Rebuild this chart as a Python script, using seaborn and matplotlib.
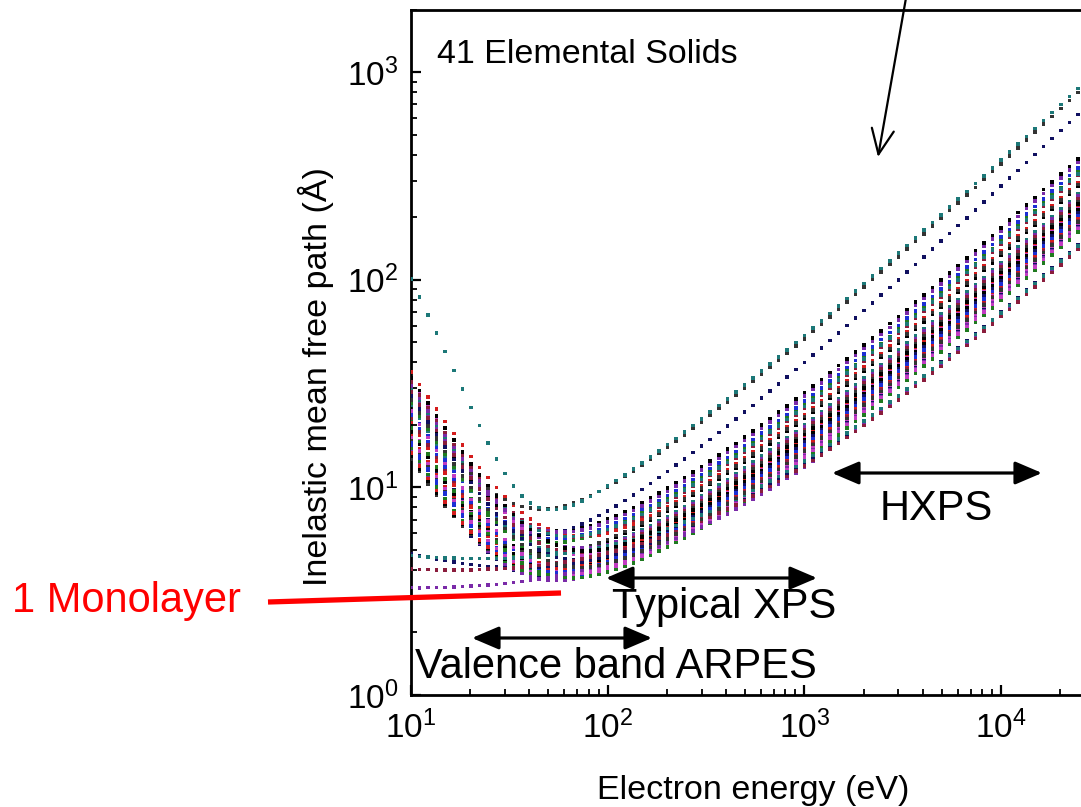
import numpy as np
import pandas as pd
import matplotlib
matplotlib.use("Agg")
import matplotlib.pyplot as plt
from matplotlib.lines import Line2D
from matplotlib.ticker import LogLocator, LogFormatterSciNotation, NullFormatter
import seaborn as sns

# ---------------------------------------------------------------------------
# Electron energies of the IMFP calculation grid (eV)
energy_ev = np.geomspace(10, 30000, 81)

# 41 elemental solids and the per-element parameters of the IMFP curves
elements = ["Li", "Be", "graphite", "diamond", "glassy C", "Na", "Mg", "Al", "Si", "K",
            "Sc", "Ti", "V", "Cr", "Fe", "Co", "Ni", "Cu", "Ge", "Y",
            "Nb", "Mo", "Ru", "Rh", "Pd", "Ag", "In", "Sn", "Cs", "Gd",
            "Tb", "Dy", "Hf", "Ta", "W", "Re", "Os", "Ir", "Pt", "Au", "Bi"]
# IMFP at 1 keV (Angstrom)
imfp_1kev = [28.6, 22.5, 26.0, 17.5, 25.0, 40.0, 27.5, 24.0, 24.5, 52.0,
             21.5, 18.5, 16.5, 15.5, 15.0, 14.6, 14.2, 15.2, 20.0, 22.0,
             17.0, 15.8, 14.0, 14.0, 15.0, 16.5, 19.5, 19.0, 54.0, 18.5,
             18.0, 17.8, 16.0, 14.8, 13.5, 13.0, 12.5, 12.7, 13.4, 15.0, 18.0]
# Bethe-type energy scale of the high-energy branch (eV)
bethe_w = [17.0, 19.0, 17.5, 20.0, 18.0, 2.0, 17.0, 18.0, 18.0, 3.2,
           19.0, 20.0, 20.5, 21.0, 21.0, 21.0, 21.5, 21.0, 19.5, 19.0,
           20.5, 21.0, 21.5, 21.5, 21.0, 20.5, 19.5, 19.5, 3.0, 20.0,
           20.0, 20.0, 20.5, 21.0, 21.5, 22.0, 22.0, 22.0, 22.0, 21.0, 20.0]
# constant offset (Angstrom)
imfp_floor = [1.0, 1.0, 1.0, 1.0, 1.0, 1.5, 1.0, 1.0, 1.0, 1.5,
              1.0, 1.0, 1.0, 1.0, 1.0, 1.0, 1.0, 1.0, 1.0, 1.0,
              1.0, 1.0, 1.0, 1.0, 1.0, 1.0, 1.0, 1.0, 1.5, 1.0,
              1.0, 1.0, 1.0, 1.0, 1.0, 2.2, 1.9, 2.5, 2.8, 1.0, 1.0]
# low-energy rise: amplitude at 10 eV (Angstrom), power and cut-off energy (eV)
low_amp = [24, 33, 20, 30, 18, 14, 26, 29, 27, 22,
           16, 15, 14, 17, 13, 12, 12.5, 19, 22, 14,
           16, 18, 20, 21, 23, 25, 28, 26, 97, 11,
           11.5, 12, 13.5, 15, 17, 1.5, 0.3, 0.5, 0.8, 24, 31]
low_pow = [1.5, 1.4, 1.5, 1.45, 1.5, 1.3, 1.5, 1.45, 1.45, 1.3,
           1.6, 1.6, 1.55, 1.55, 1.6, 1.6, 1.6, 1.5, 1.5, 1.6,
           1.55, 1.5, 1.5, 1.5, 1.45, 1.45, 1.4, 1.45, 1.47, 1.6,
           1.6, 1.6, 1.55, 1.55, 1.5, 0.6, 0.5, 0.5, 0.5, 1.45, 1.4]
low_cut = [60, 70, 60, 65, 55, 50, 60, 65, 65, 50,
           55, 55, 55, 60, 55, 55, 55, 60, 60, 50,
           55, 60, 60, 60, 60, 65, 65, 65, 18, 50,
           50, 50, 55, 55, 60, 40, 60, 60, 60, 60, 70]

# plotting colours of the data sets
series_colors = ["#000000", "#d41c1c", "#1c2fd4", "#c23cc2", "#1f7a1f",
                 "#101060", "#7a2aa8", "#8a1c3c", "#1c7878", "#333333"]


def imfp_curve(e, lam1k, w, floor, amp, pw, cut):
    k = (lam1k - floor) * np.log1p(1000.0 / w) / 1000.0
    high = k * e / np.log1p(e / w)
    low = amp * (10.0 / e) ** pw * np.exp(-(e - 10.0) / cut)
    return high + floor + low


rows = []
for i, name in enumerate(elements):
    lam = imfp_curve(energy_ev, imfp_1kev[i], bethe_w[i], imfp_floor[i],
                     low_amp[i], low_pow[i], low_cut[i])
    rows.append(pd.DataFrame({"element": name, "energy": energy_ev, "imfp": lam}))
df = pd.concat(rows, ignore_index=True)
palette = {name: series_colors[i % len(series_colors)] for i, name in enumerate(elements)}

# ---------------------------------------------------------------------------
sns.set_style("ticks")
plt.rcParams["font.family"] = ["Liberation Sans", "DejaVu Sans"]
plt.rcParams["mathtext.fontset"] = "custom"
plt.rcParams["mathtext.rm"] = "Liberation Sans"
plt.rcParams["mathtext.it"] = "Liberation Sans:italic"
for key in ["text.color", "axes.labelcolor", "xtick.color", "ytick.color",
            "axes.edgecolor"]:
    plt.rcParams[key] = "black"

W, H = 1081, 807
fig = plt.figure(figsize=(W / 100, H / 100), dpi=100)
ax = fig.add_axes([411 / W, (H - 695) / H, (1095 - 411) / W, (695 - 9.5) / H])

sns.scatterplot(data=df, x="energy", y="imfp", hue="element", palette=palette,
                marker="s", s=6.5, linewidth=0, legend=False, ax=ax, zorder=3)

ax.set_xscale("log")
ax.set_yscale("log")
ax.set_xlim(10, 3e4)
ax.set_ylim(1, 2000)

for axis in (ax.xaxis, ax.yaxis):
    axis.set_major_locator(LogLocator(base=10, numticks=10))
    axis.set_minor_locator(LogLocator(base=10, subs=np.arange(2, 10), numticks=20))
    axis.set_major_formatter(LogFormatterSciNotation())
    axis.set_minor_formatter(NullFormatter())

for side in ["top", "right", "bottom", "left"]:
    ax.spines[side].set_linewidth(2.0)
    ax.spines[side].set_color("black")
ax.tick_params(which="both", direction="in", top=False, right=False, color="black",
               labelcolor="black")
ax.tick_params(which="major", length=7, width=1.6, labelsize=24)
ax.tick_params(which="minor", length=4, width=1.3)
ax.tick_params(axis="x", which="major", pad=11)
ax.tick_params(axis="y", which="major", pad=9)

ax.set_xlabel("Electron energy (eV)", fontsize=24.5, color="black")
ax.set_ylabel("Inelastic mean free path (\u00c5)", fontsize=24.5, color="black")
ax.xaxis.set_label_coords(0.5, -(775 - 695) / 685.5)
ax.yaxis.set_label_coords((334 - 411) / 684, 0.465)

ax.text(437, H - 63, "41 Elemental Solids", transform=None, fontsize=24.5,
        ha="left", va="baseline", color="black")


def fpx(x, y):
    return (x, H - y)


# energy windows of the photoemission techniques
double_head = dict(arrowstyle="<|-|>,head_length=0.75,head_width=0.32", lw=2.3,
                   color="black", shrinkA=0, shrinkB=0, mutation_scale=22)
for x0, x1, y in [(832, 1042, 473), (606, 817, 578), (472, 652, 638)]:
    ax.annotate("", xy=fpx(x1, y), xytext=fpx(x0, y), xycoords="figure pixels",
                textcoords="figure pixels", arrowprops=double_head, zorder=6)

fig.text(936 / W, 1 - 520 / H, "HXPS", fontsize=30, ha="center", va="baseline",
         color="black")
fig.text(612 / W, 1 - 618 / H, "Typical XPS", fontsize=30, ha="left", va="baseline",
         color="black")
fig.text(415 / W, 1 - 678 / H, "Valence band ARPES", fontsize=30, ha="left",
         va="baseline", color="black")
fig.text(12 / W, 1 - 612 / H, "1 Monolayer", fontsize=30, color="#ff0000",
         ha="left", va="baseline")

fig.add_artist(Line2D([268 / W, 561 / W], [1 - 602 / H, 1 - 593 / H],
                      color="#ff0000", lw=3.8, solid_capstyle="butt", zorder=7))

ax.annotate("", xy=fpx(878, 157), xytext=fpx(906, -2), xycoords="figure pixels",
            textcoords="figure pixels",
            arrowprops=dict(arrowstyle="->,head_length=0.9,head_width=0.4", lw=1.6,
                            color="black", shrinkA=0, shrinkB=0, mutation_scale=20),
            zorder=6)

fig.savefig("out.png", dpi=100, facecolor="white")
